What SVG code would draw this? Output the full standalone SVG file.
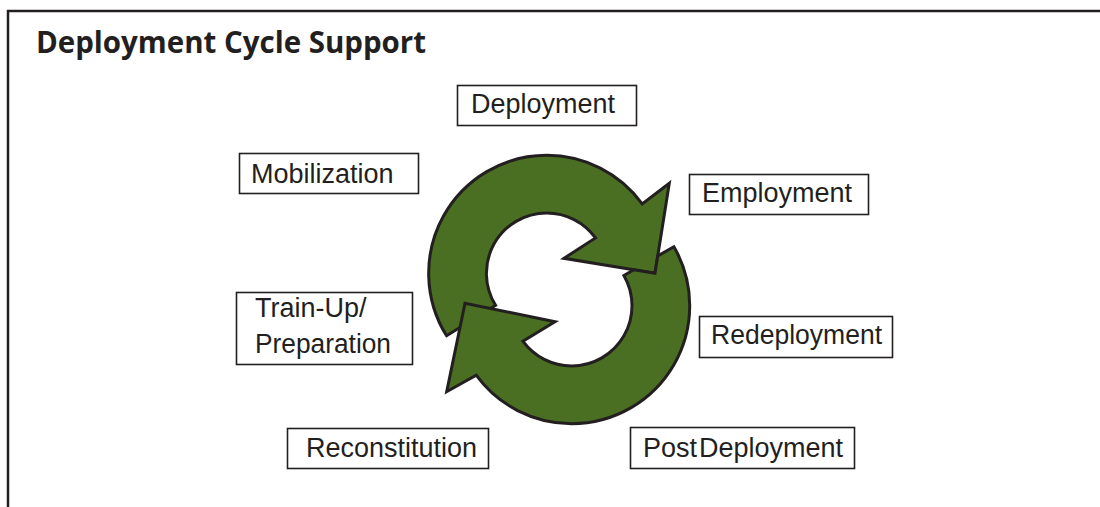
<svg xmlns="http://www.w3.org/2000/svg" width="1100" height="507" viewBox="0 0 1100 507">
<style>
.box{fill:#fff;stroke:#231f20;stroke-width:1.6}
.lbl{font-family:"Liberation Sans",Arial,sans-serif;font-size:27px;fill:#231f20}
.title{font-family:"Open Sans","DejaVu Sans",sans-serif;font-weight:bold;font-size:29.5px;fill:#231f20}
.arrow{fill:#4b6f22;stroke:#231f20;stroke-width:3;stroke-linejoin:miter}
</style>
<rect width="1100" height="507" fill="#fff"/>
<rect x="8" y="11" width="1110" height="520" fill="none" stroke="#231f20" stroke-width="2.5"/>
<text class="title" x="36" y="53" textLength="390" lengthAdjust="spacingAndGlyphs">Deployment Cycle Support</text>
<g id="cycle">
<path id="arrow-upper" class="arrow" d="M446.6,335.8 A118,118 0 0 1 546.7,155.3 A118,118 0 0 1 642.2,203.9 L669.3,183.3 L655,273.3 L564,258.3 L595.5,237.9 A60.3,60.3 0 0 0 546.7,213 A60.3,60.3 0 0 0 495.6,305.3 Z"/>
<path id="arrow-lower" class="arrow" d="M673.9,246.7 A118,118 0 0 1 571.7,423.7 A118,118 0 0 1 476.2,375.1 L446.7,391.7 L465,303.3 L555,321.7 L522.9,341.2 A60.3,60.3 0 0 0 571.7,366 A60.3,60.3 0 0 0 623.9,275.5 L633.8,269.8 L655,273.3 L657.7,256 Z"/>
</g>
<g id="deployment"><rect class="box" x="457.5" y="85.5" width="179" height="40"/><text class="lbl" x="471" y="113">Deployment</text></g>
<g id="employment"><rect class="box" x="689.5" y="174.5" width="179" height="40"/><text class="lbl" x="702" y="202">Employment</text></g>
<g id="mobilization"><rect class="box" x="239.5" y="153.5" width="179" height="40"/><text class="lbl" x="251" y="183">Mobilization</text></g>
<g id="redeployment"><rect class="box" x="699.5" y="316.5" width="193" height="41"/><text class="lbl" x="711" y="344" textLength="171" lengthAdjust="spacingAndGlyphs">Redeployment</text></g>
<g id="postdeployment"><rect class="box" x="630.5" y="427.5" width="224" height="41"/><text class="lbl" x="643" y="457">Post<tspan dx="2">Deployment</tspan></text></g>
<g id="reconstitution"><rect class="box" x="287.5" y="428.5" width="201" height="40"/><text class="lbl" x="306" y="457">Reconstitution</text></g>
<g id="trainup"><rect class="box" x="236.5" y="292.5" width="176" height="72"/><text class="lbl" x="255" y="317">Train-Up/</text><text class="lbl" x="255" y="353" textLength="136" lengthAdjust="spacingAndGlyphs">Preparation</text></g>
</svg>
